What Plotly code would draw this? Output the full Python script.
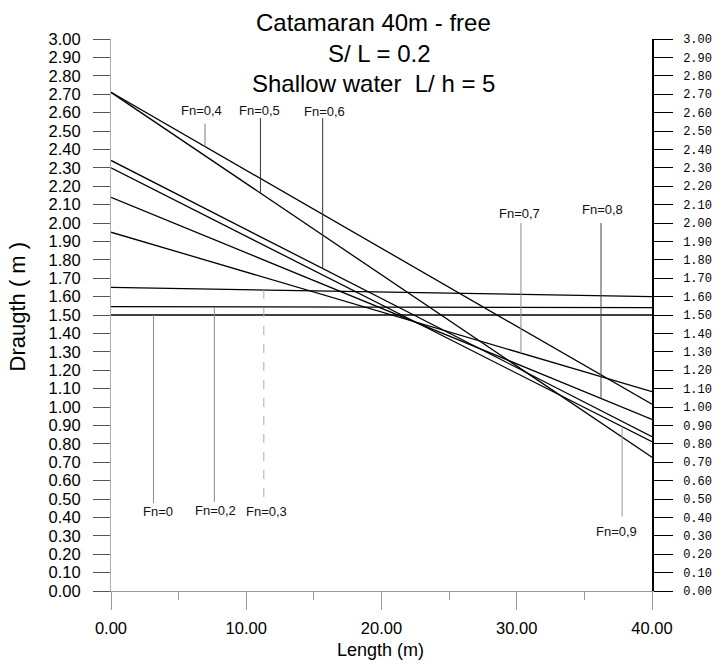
import numpy as np
import plotly.graph_objects as go

# Froude numbers of each trim line and the draught at both ends of the hull
froude = ["0", "0,2", "0,3", "0,4", "0,5", "0,6", "0,7", "0,8", "0,9"]
length_ends = [0.0, 40.0]
draught_at_0m = [1.50, 1.545, 1.65, 2.71, 2.71, 2.34, 1.95, 2.14, 2.30]
draught_at_40m = [1.50, 1.54, 1.60, 1.015, 0.727, 0.839, 1.083, 0.933, 0.811]

y_ticks = [round(0.1 * i, 2) for i in range(31)]
x_ticks = [0, 10, 20, 30, 40]

# label leaders: station along the hull, free end of the leader, label anchor
leader_x = [3.14, 7.64, 11.3, 6.95, 11.05, 15.65, 30.31, 36.23, 37.79]
leader_free_end = [0.478, 0.485, 0.484, 2.54, 2.57, 2.57, 2.00, 2.00, 0.404]
label_x = [3.46, 7.73, 11.47, 6.70, 10.99, 15.77, 30.22, 36.33, 37.39]
label_y = [0.431, 0.44, 0.431, 2.614, 2.614, 2.605, 2.053, 2.074, 0.326]
leader_color = ["#8a8a8a", "#8a8a8a", "#aaaaaa", "#7a7a7a", "#333333",
                "#333333", "#8a8a8a", "#444444", "#9a9a9a"]
leader_dash = ["solid", "solid", "dash", "solid", "solid",
               "solid", "solid", "solid", "solid"]

fig = go.Figure()

for i, fn in enumerate(froude):
    fig.add_trace(go.Scatter(
        x=length_ends, y=[draught_at_0m[i], draught_at_40m[i]],
        mode="lines", line=dict(color="black", width=1.3),
        name="Fn=" + fn, showlegend=False, hoverinfo="skip"))

# a hidden trace carrying the right-hand axis
fig.add_trace(go.Scatter(x=[0, 40], y=[0, 3], yaxis="y2", mode="markers",
                         marker=dict(opacity=0), showlegend=False,
                         hoverinfo="skip"))

shapes = []
annotations = []
for i, fn in enumerate(froude):
    on_line = float(np.interp(leader_x[i], length_ends,
                              [draught_at_0m[i], draught_at_40m[i]]))
    shapes.append(dict(type="line", xref="x", yref="y",
                       x0=leader_x[i], x1=leader_x[i],
                       y0=on_line, y1=leader_free_end[i],
                       line=dict(color=leader_color[i], width=1,
                                 dash=leader_dash[i])))
    annotations.append(dict(x=label_x[i], y=label_y[i], xref="x", yref="y",
                            text="Fn=" + fn, showarrow=False,
                            xanchor="center", yanchor="middle",
                            font=dict(family="Arial, Liberation Sans",
                                      size=13, color="#111111")))

title_font = dict(family="Arial, Liberation Sans", size=24, color="black")
for txt, px, py in [("Catamaran 40m - free", 0.4846, 1.0295),
                    ("S/ L = 0.2", 0.497, 0.9746),
                    ("Shallow water  L/ h = 5", 0.486, 0.920)]:
    annotations.append(dict(x=px, y=py, xref="paper", yref="paper", text=txt,
                            showarrow=False, xanchor="center",
                            yanchor="middle", font=title_font))

annotations.append(dict(x=-0.1724, y=0.515, xref="paper", yref="paper",
                        text="Draugth ( m )", textangle=-90, showarrow=False,
                        xanchor="center", yanchor="middle",
                        font=dict(family="Arial, Liberation Sans", size=22,
                                  color="black")))
annotations.append(dict(x=0.498, y=-0.106, xref="paper", yref="paper",
                        text="Length (m)", showarrow=False,
                        xanchor="center", yanchor="middle",
                        font=dict(family="Arial, Liberation Sans", size=18,
                                  color="black")))

tick_font = dict(family="Arial, Liberation Sans", size=16.5, color="black")

fig.update_layout(
    width=724, height=665,
    margin=dict(l=111, r=62, t=39, b=74),
    paper_bgcolor="white", plot_bgcolor="white",
    shapes=shapes, annotations=annotations,
    xaxis=dict(range=[0, 40], tickvals=x_ticks,
               ticktext=[f"{v:.2f}" for v in x_ticks],
               ticks="outside", ticklen=18, tickcolor="#9a9a9a", tickwidth=1,
               minor=dict(dtick=5, ticks="outside", ticklen=8,
                          tickcolor="#9a9a9a"),
               showline=True, linecolor="#9a9a9a", linewidth=1,
               showgrid=False, zeroline=False, tickfont=tick_font,
               ticklabelstandoff=4),
    yaxis=dict(range=[0, 3], tickvals=y_ticks,
               ticktext=[f"{v:.2f}" for v in y_ticks],
               ticks="outside", ticklen=17, tickcolor="#555555", tickwidth=1,
               showline=True, linecolor="#b0b0b0", linewidth=1,
               showgrid=False, zeroline=False, tickfont=tick_font,
               ticklabelstandoff=9),
    yaxis2=dict(range=[0, 3], overlaying="y", side="right",
                tickvals=y_ticks, ticktext=[f"{v:.2f}" for v in y_ticks],
                ticks="outside", ticklen=19, tickcolor="black", tickwidth=1.3,
                showline=True, linecolor="black", linewidth=1.5,
                showgrid=False, zeroline=False,
                tickfont=dict(family="Liberation Mono", size=12,
                              color="black"),
                ticklabelstandoff=8),
)

fig.write_html("out.html")
